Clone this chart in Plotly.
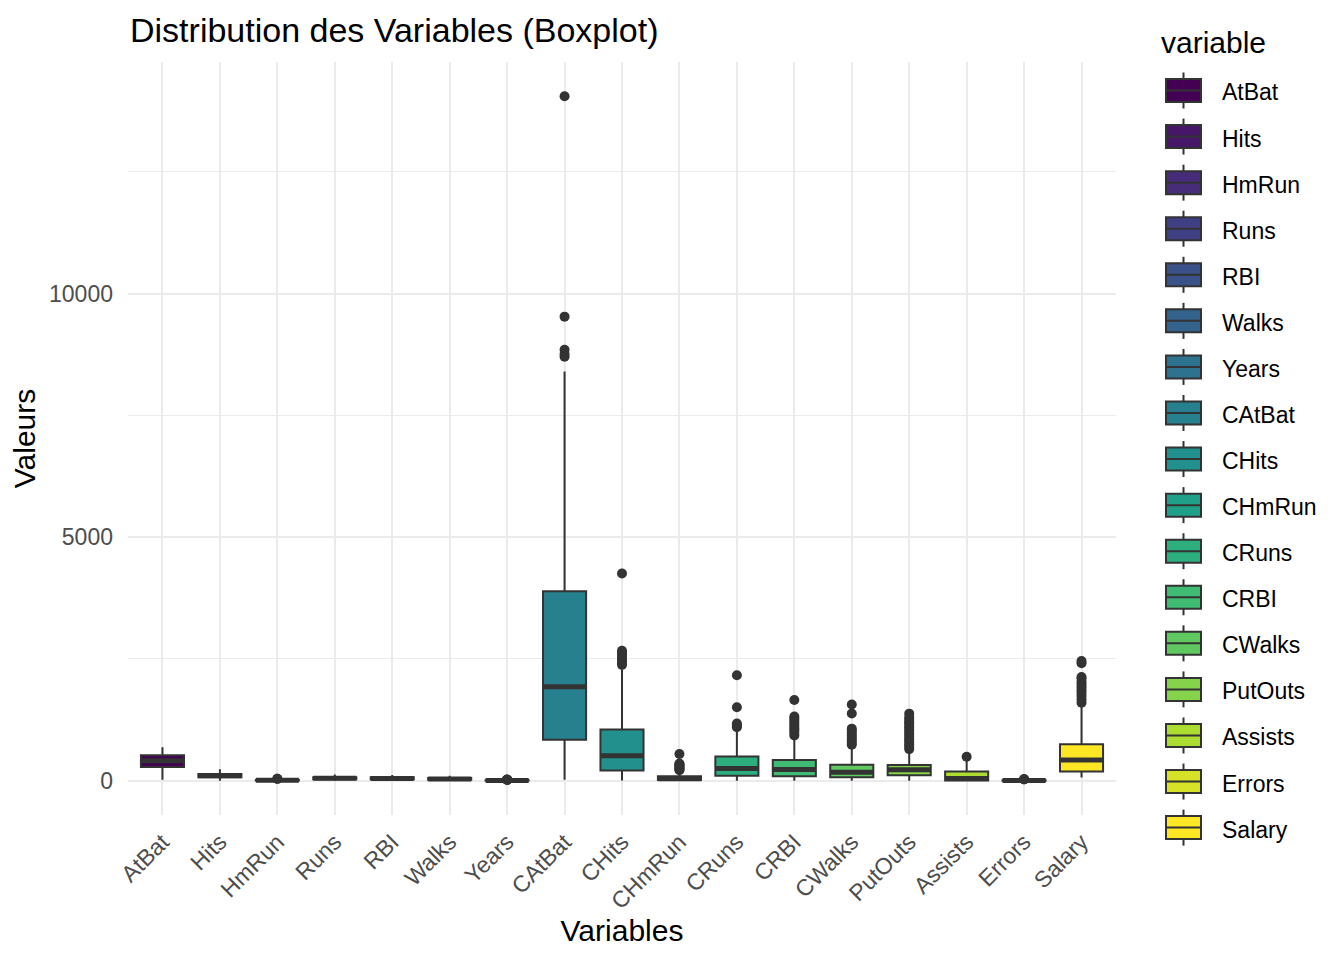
import plotly.graph_objects as go
from plotly.colors import sample_colorscale

# Hitters variables, boxplot summaries
variables = ['AtBat', 'Hits', 'HmRun', 'Runs', 'RBI', 'Walks', 'Years',
             'CAtBat', 'CHits', 'CHmRun', 'CRuns', 'CRBI', 'CWalks',
             'PutOuts', 'Assists', 'Errors', 'Salary']
q1 = [282.5, 71.5, 5, 33.5, 30, 23, 4, 842.5, 212, 15, 105.5, 95, 71,
      113.5, 8, 3, 190]
median = [413, 103, 9, 52, 47, 37, 6, 1931, 516, 40, 250, 230, 174,
          224, 45, 7, 425]
q3 = [526, 141.5, 18, 73, 71, 57, 10, 3890.5, 1054, 92.5, 497.5, 424.5,
      328.5, 322.5, 192, 13, 750]
whisker_low = [19, 1, 0, 0, 0, 0, 1, 19, 4, 0, 2, 3, 1, 0, 0, 0, 67.5]
whisker_high = [687, 238, 37, 130, 121, 105, 19, 8400, 2290, 205, 1040,
                890, 705, 620, 440, 26, 1560]
outliers = [
    [], [], [39, 40], [], [], [], [20, 21, 23, 24],
    [8705, 8759, 8850, 9528, 14053],
    [2380, 2420, 2460, 2510, 2560, 2600, 2640, 2670, 4256],
    [215, 235, 255, 275, 300, 320, 340, 355, 548],
    [1100, 1140, 1175, 1510, 2165],
    [930, 980, 1030, 1080, 1130, 1180, 1230, 1280, 1320, 1659],
    [740, 780, 830, 880, 930, 980, 1030, 1070, 1380, 1566],
    [650, 700, 750, 800, 850, 900, 950, 1000, 1050, 1100, 1150, 1200,
     1250, 1300, 1378],
    [492],
    [29, 30, 32],
    [1600, 1670, 1740, 1800, 1860, 1920, 1975, 2030, 2100, 2130, 2412, 2460],
]

FONT = 'Liberation Sans, Arial, sans-serif'
colors = sample_colorscale('Viridis', [i / (len(variables) - 1) for i in range(len(variables))])
box_w = 0.75

# page has an 8px body margin, so the figure is drawn 8px smaller
W, H = 1336, 952
ML, MR, MT, MB = 120, 228, 54, 145
PW, PH = W - ML - MR, H - MT - MB


def px_x(page_x):
    return (page_x - 8 - ML) / PW


def px_y(page_y):
    return 1 - (page_y - 8 - MT) / PH


fig = go.Figure()

for i, v in enumerate(variables):
    fig.add_trace(go.Box(
        x=[v], q1=[q1[i]], median=[median[i]], q3=[q3[i]],
        lowerfence=[whisker_low[i]], upperfence=[whisker_high[i]],
        name=v, boxpoints=False, width=box_w, showlegend=False,
        fillcolor=colors[i], line=dict(color='#333333', width=2),
        whiskerwidth=0, hoverinfo='skip'
    ))

for i, v in enumerate(variables):
    if outliers[i]:
        fig.add_trace(go.Scatter(
            x=[v] * len(outliers[i]), y=outliers[i], mode='markers',
            marker=dict(color='#333333', size=10),
            showlegend=False, hoverinfo='skip'
        ))

# thicker median bars like ggplot
for i, v in enumerate(variables):
    fig.add_shape(type='line', xref='x', yref='y',
                  x0=i - box_w / 2, x1=i + box_w / 2,
                  y0=median[i], y1=median[i],
                  line=dict(color='#333333', width=5))

# ggplot-style legend keys
key_left, key_right, key_mid = 1166, 1201, 1183.5
for i, v in enumerate(variables):
    cy = 90.5 + 46.07 * i
    fig.add_shape(type='line', xref='paper', yref='paper',
                  x0=px_x(key_mid), x1=px_x(key_mid),
                  y0=px_y(cy - 18), y1=px_y(cy + 18),
                  line=dict(color='#333333', width=2))
    fig.add_shape(type='rect', xref='paper', yref='paper',
                  x0=px_x(key_left), x1=px_x(key_right),
                  y0=px_y(cy - 11.5), y1=px_y(cy + 11.5),
                  fillcolor=colors[i], line=dict(color='#333333', width=2))
    fig.add_shape(type='line', xref='paper', yref='paper',
                  x0=px_x(key_left), x1=px_x(key_right),
                  y0=px_y(cy), y1=px_y(cy),
                  line=dict(color='#333333', width=2))
    fig.add_annotation(text=v, xref='paper', yref='paper',
                       x=px_x(1220), y=px_y(cy + 2), xanchor='left', yanchor='middle',
                       showarrow=False, font=dict(size=23, color='black'))

fig.add_annotation(text='variable', xref='paper', yref='paper',
                   x=px_x(1159), y=px_y(42), xanchor='left', yanchor='middle',
                   showarrow=False, font=dict(size=30, color='black'))

all_vals = [y for o in outliers for y in o] + whisker_high + whisker_low
ymin, ymax = min(all_vals), max(all_vals)
pad = 0.05 * (ymax - ymin)

fig.update_layout(
    width=W, height=H,
    margin=dict(l=ML, r=MR, t=MT, b=MB, autoexpand=False),
    paper_bgcolor='white', plot_bgcolor='white',
    font=dict(family=FONT, color='black'),
    boxmode='overlay', showlegend=False,
    title=dict(text='Distribution des Variables (Boxplot)',
               x=122 / W, xref='container', xanchor='left',
               y=1 - 22 / H, yref='container', yanchor='middle',
               font=dict(size=34, color='black')),
)

fig.update_xaxes(
    range=[-0.6, len(variables) - 0.4],
    showgrid=True, gridcolor='#EBEBEB', gridwidth=1.5,
    tickangle=-45, tickfont=dict(size=23, color='#4D4D4D'),
    ticklabelstandoff=8, zeroline=False, showline=False, automargin=False,
    title=dict(text='Variables', font=dict(size=30), standoff=5),
)
fig.update_yaxes(
    range=[ymin - pad, ymax + pad],
    tickvals=[0, 5000, 10000], tickformat='d',
    showgrid=True, gridcolor='#EBEBEB', gridwidth=1.5,
    minor=dict(tickvals=[2500, 7500, 12500], showgrid=True,
               gridcolor='#EBEBEB', gridwidth=0.8),
    tickfont=dict(size=23, color='#4D4D4D'),
    ticklabelstandoff=14, zeroline=False, showline=False, automargin=False,
    title=dict(text='Valeurs', font=dict(size=30), standoff=10),
)

fig.write_html('out.html')
